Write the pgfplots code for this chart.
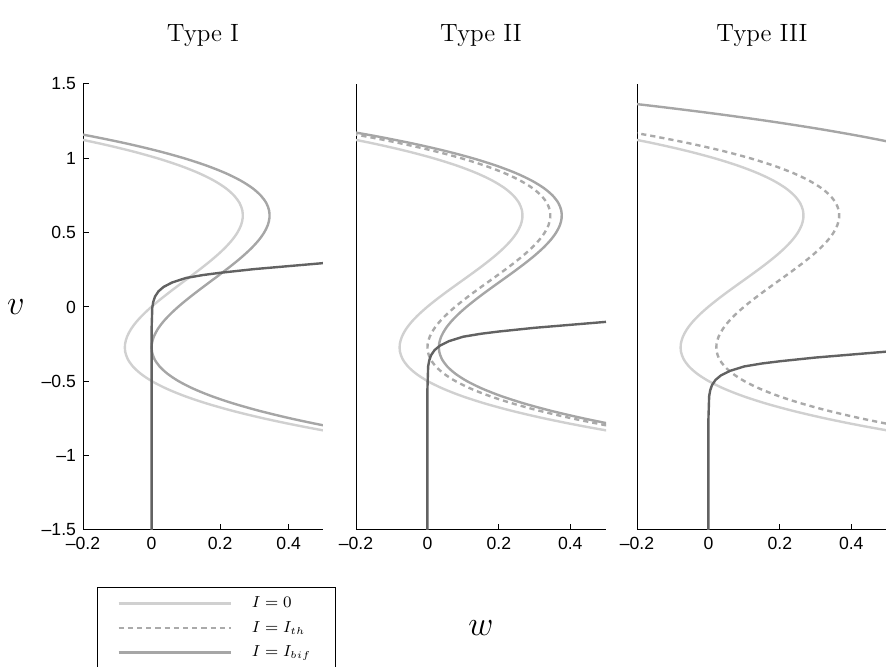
\documentclass[border=0pt]{standalone}
\usepackage{pgfplots}
\pgfplotsset{compat=1.18}
\usepackage{pgfplotstable}
\usepackage{fontspec}
\newfontfamily\tickfont{Liberation Sans}
\definecolor{czero}{RGB}{208,208,208}
\definecolor{cth}{RGB}{170,170,170}
\definecolor{cbif}{RGB}{166,166,166}
\definecolor{cw}{RGB}{98,98,98}

% v-nullclines: columns w for I=0 and for shifted input currents
\pgfplotstableread{
v w0 wa wb wc wd
-0.95 0.8301 0.9081 0.9301 0.9401 1.5101
-0.90 0.6817 0.7597 0.7817 0.7917 1.3617
-0.85 0.5491 0.6271 0.6491 0.6591 1.2291
-0.80 0.4316 0.5096 0.5316 0.5416 1.1116
-0.75 0.3284 0.4064 0.4284 0.4384 1.0084
-0.70 0.2388 0.3168 0.3388 0.3488 0.9188
-0.65 0.1621 0.2401 0.2621 0.2721 0.8421
-0.60 0.0974 0.1754 0.1974 0.2074 0.7774
-0.55 0.0442 0.1222 0.1442 0.1542 0.7242
-0.50 0.0016 0.0796 0.1016 0.1116 0.6816
-0.45 -0.0310 0.0470 0.0690 0.0790 0.6490
-0.40 -0.0546 0.0234 0.0454 0.0554 0.6254
-0.35 -0.0696 0.0084 0.0304 0.0404 0.6104
-0.30 -0.0770 0.0010 0.0230 0.0330 0.6030
-0.25 -0.0774 0.0006 0.0226 0.0326 0.6026
-0.20 -0.0716 0.0064 0.0284 0.0384 0.6084
-0.15 -0.0603 0.0177 0.0397 0.0497 0.6197
-0.10 -0.0443 0.0337 0.0557 0.0657 0.6357
-0.05 -0.0242 0.0538 0.0758 0.0858 0.6558
0.00 -0.0009 0.0771 0.0991 0.1091 0.6791
0.05 0.0250 0.1030 0.1250 0.1350 0.7050
0.10 0.0526 0.1306 0.1526 0.1626 0.7326
0.15 0.0813 0.1593 0.1813 0.1913 0.7613
0.20 0.1104 0.1884 0.2104 0.2204 0.7904
0.25 0.1390 0.2170 0.2390 0.2490 0.8190
0.30 0.1665 0.2445 0.2665 0.2765 0.8465
0.35 0.1921 0.2701 0.2921 0.3021 0.8721
0.40 0.2151 0.2931 0.3151 0.3251 0.8951
0.45 0.2347 0.3127 0.3347 0.3447 0.9147
0.50 0.2502 0.3282 0.3502 0.3602 0.9302
0.55 0.2609 0.3389 0.3609 0.3709 0.9409
0.60 0.2659 0.3439 0.3659 0.3759 0.9459
0.65 0.2647 0.3427 0.3647 0.3747 0.9447
0.70 0.2565 0.3345 0.3565 0.3665 0.9365
0.75 0.2404 0.3184 0.3404 0.3504 0.9204
0.80 0.2159 0.2939 0.3159 0.3259 0.8959
0.85 0.1820 0.2600 0.2820 0.2920 0.8620
0.90 0.1382 0.2162 0.2382 0.2482 0.8182
0.95 0.0836 0.1616 0.1836 0.1936 0.7636
1.00 0.0176 0.0956 0.1176 0.1276 0.6976
1.05 -0.0606 0.0174 0.0394 0.0494 0.6194
1.10 -0.1518 -0.0738 -0.0518 -0.0418 0.5282
1.15 -0.2567 -0.1787 -0.1567 -0.1467 0.4233
1.20 -0.3760 -0.2980 -0.2760 -0.2660 0.3040
1.25 -0.5104 -0.4324 -0.4104 -0.4004 0.1696
1.30 -0.6608 -0.5828 -0.5608 -0.5508 0.0192
1.35 -0.8278 -0.7498 -0.7278 -0.7178 -0.1478
1.40 -1.0121 -0.9341 -0.9121 -0.9021 -0.3321
1.45 -1.2146 -1.1346 -1.1146 -1.1046 -0.5346
}\nullc

% w-nullclines
\pgfplotstableread{
w v
0 -1.5
0 -0.155
0.002 -0.005
0.005 0.035
0.01 0.07
0.02 0.105
0.035 0.135
0.06 0.165
0.1 0.195
0.15 0.215
0.2 0.23
0.3 0.255
0.4 0.275
0.5 0.295
}\wone
\pgfplotstableread{
w v
0 -1.5
0 -0.55
0.002 -0.40
0.005 -0.36
0.01 -0.325
0.02 -0.29
0.035 -0.26
0.06 -0.23
0.1 -0.20
0.15 -0.18
0.2 -0.165
0.3 -0.14
0.4 -0.12
0.5 -0.10
}\wtwo
\pgfplotstableread{
w v
0 -1.5
0 -0.75
0.002 -0.60
0.005 -0.56
0.01 -0.525
0.02 -0.49
0.035 -0.46
0.06 -0.43
0.1 -0.40
0.15 -0.38
0.2 -0.365
0.3 -0.34
0.4 -0.32
0.5 -0.30
}\wthree

\pgfplotsset{
  panel/.style={
    scale only axis, height=223pt,
    anchor=south west,
    xmin=-0.2, xmax=0.5, ymin=-1.5, ymax=1.5,
    axis x line*=bottom, axis y line*=left,
    axis line style={-, line width=0.5pt, black},
    tick align=inside, major tick length=3pt,
    tick style={black, line width=0.5pt},
    xtick={-0.2,0,0.2,0.4},
    xticklabels={\textendash0.2,0,0.2,0.4},
    ticklabel style={font=\tickfont\fontsize{8.8}{10}\selectfont},
    title style={font=\fontsize{12.5}{14}\selectfont, at={(0.5,1)}, anchor=base, yshift=15pt},
    every axis plot/.append style={line width=1.2pt, forget plot},
  },
  thdash/.style={dash pattern=on 2.6pt off 2pt},
}

\begin{document}
\begin{tikzpicture}
% Panel 1
\begin{axis}[panel, at={(41.5pt,68.5pt)}, width=120pt,
  title={Type I},
  ytick={-1.5,-1,-0.5,0,0.5,1,1.5},
  yticklabels={\textendash1.5,\textendash1,\textendash0.5,0,0.5,1,1.5},
  ylabel={$v$},
  ylabel style={rotate=-90, font=\fontsize{18}{20}\selectfont, at={(axis description cs:-0.28,0.5)}, anchor=center},
  legend style={at={(0.058,-0.128)}, anchor=north west, draw=black, line width=0.5pt,
    font=\fontsize{7.8}{8.5}\selectfont, inner xsep=10pt, inner ysep=2.5pt, row sep=1.3pt,
    /tikz/every odd column/.append style={column sep=8pt}},
  legend cell align=left,
  legend image code/.code={\draw[#1, line width=1.2pt] (0pt,0pt) -- (56pt,0pt);},
]
\addlegendimage{czero}\addlegendentry{$I=0$}
\addlegendimage{cth, thdash}\addlegendentry{$I=I_{th}$}
\addlegendimage{cbif}\addlegendentry{$I=I_{bif}$}
\addplot[czero, smooth] table[x=w0, y=v] {\nullc};
\addplot[cbif, smooth] table[x=wa, y=v] {\nullc};
\addplot[cw] table[x=w, y=v] {\wone};
\end{axis}
% Panel 2
\begin{axis}[panel, at={(178pt,68.5pt)}, width=125pt,
  title={Type II}, ytick=\empty,
  xlabel={$w$},
  xlabel style={font=\fontsize{18}{20}\selectfont, at={(axis description cs:0.5,0)}, anchor=center, yshift=-49pt},
]
\addplot[czero, smooth] table[x=w0, y=v] {\nullc};
\addplot[cth, thdash, smooth] table[x=wa, y=v] {\nullc};
\addplot[cbif, smooth] table[x=wc, y=v] {\nullc};
\addplot[cw] table[x=w, y=v] {\wtwo};
\end{axis}
% Panel 3
\begin{axis}[panel, at={(318.5pt,68.5pt)}, width=125pt,
  title={Type III}, ytick=\empty,
]
\addplot[czero, smooth] table[x=w0, y=v] {\nullc};
\addplot[cth, thdash, smooth] table[x=wb, y=v] {\nullc};
\addplot[cbif, smooth] table[x=wd, y=v] {\nullc};
\addplot[cw] table[x=w, y=v] {\wthree};
\end{axis}
\pgfresetboundingbox
\path[use as bounding box] (0pt,0pt) rectangle (443pt,333.5pt);
\end{tikzpicture}
\end{document}
